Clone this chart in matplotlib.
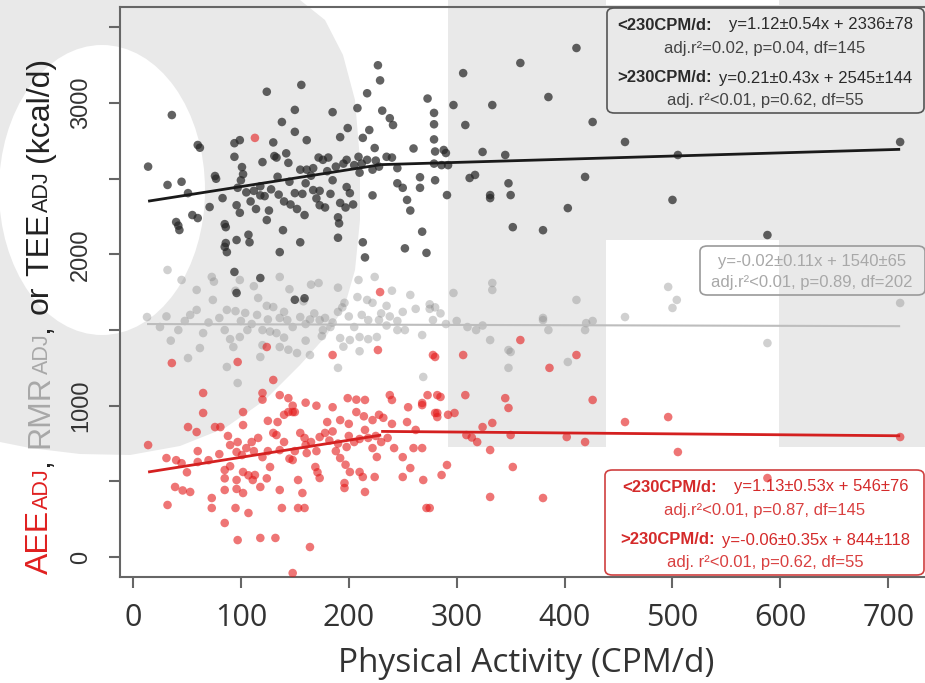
import matplotlib
matplotlib.use("Agg")
import matplotlib.pyplot as plt
from matplotlib import font_manager
from matplotlib.patches import Polygon, Ellipse, Rectangle, FancyBboxPatch
import numpy as np

W, H = 925, 683

# ---- data ----
tee_x = [36, 14, 60, 62, 32, 45, 51, 40, 42, 55, 60, 76, 77, 71, 83, 85, 86, 86, 85, 94,
         94, 99, 101, 102, 100, 97, 96, 99, 96, 107, 108, 120, 124, 130, 131, 133, 134, 124, 118, 122,
         138, 142, 144, 139, 136, 150, 150, 156, 161, 155, 161, 167, 150, 157, 159, 155, 172, 176, 181, 167,
         173, 173, 185, 192, 199, 198, 185, 198, 201, 192, 197, 204, 190, 191, 190, 208, 213, 219, 217, 222,
         209, 224, 222, 213, 227, 229, 217, 231, 238, 241, 235, 240, 245, 245, 250, 254, 257, 260, 266, 266,
         273, 279, 279, 279, 280, 279, 280, 268, 252, 272, 215, 43, 87, 94, 118, 96, 150, 159, 359, 306,
         297, 333, 385, 308, 288, 290, 286, 292, 324, 345, 291, 312, 317, 331, 331, 348, 350, 352, 380, 403,
         419, 426, 456, 505, 500, 588, 711, 411, 105, 112, 118, 128, 135, 140, 145, 160, 165, 180, 188, 195,
         205, 210, 212, 225, 228, 109, 114, 126, 146, 152, 170, 178, 183]
tee_y = [2921, 2580, 2723, 2705, 2459, 2480, 2405, 2214, 2190, 2260, 2240, 2518, 2500, 2313, 2372, 2200, 2180, 2075, 2050, 2645,
         2735, 2755, 2577, 2530, 2490, 2440, 2325, 2275, 2095, 2130, 2080, 2610, 3075, 2740, 2650, 2640, 2513, 2227, 2390, 2385,
         2875, 2668, 2605, 2160, 2015, 2955, 2810, 3120, 2755, 2560, 2560, 2570, 2405, 2400, 2260, 2080, 2640, 2625, 2640, 2425,
         2420, 2325, 2940, 2775, 2835, 2625, 2490, 2445, 2405, 2340, 2310, 2330, 2245, 2205, 2110, 2967, 2770, 2822, 2625, 2560,
         2645, 2703, 2390, 2080, 3250, 3150, 3065, 2950, 2900, 2855, 2645, 2640, 2570, 2470, 2440, 2360, 2290, 2700, 2510, 2440,
         3030, 2935, 2860, 2760, 2680, 2600, 2490, 2150, 2040, 2010, 1980, 2161, 2015, 1884, 1844, 1745, 1700, 1710, 3265, 3198,
         2987, 2987, 3040, 2855, 2690, 2670, 2590, 2590, 2677, 2657, 2392, 2505, 2525, 2392, 2372, 2470, 2392, 2180, 2160, 2306,
         2512, 2875, 2743, 2657, 2360, 2128, 2743, 3364, 2410, 2420, 2450, 2430, 2395, 2350, 2480, 2470, 2520, 2550, 2580, 2600,
         2590, 2540, 2600, 2620, 2580, 2350, 2300, 2290, 2330, 2300, 2370, 2310, 2400]

rmr_x = [32, 45, 59, 73, 74, 13, 31, 53, 59, 87, 95, 104, 42, 62, 51, 85, 90, 93, 99, 106,
         97, 87, 116, 124, 130, 136, 136, 143, 120, 127, 133, 136, 144, 152, 118, 164, 155, 164, 173, 172,
         158, 176, 183, 190, 196, 194, 192, 201, 209, 224, 208, 217, 222, 235, 250, 262, 275, 280, 218, 228,
         235, 245, 252, 268, 210, 218, 226, 257, 269, 190, 99, 75, 95, 112, 145, 165, 190, 240, 297, 333,
         333, 411, 496, 504, 500, 456, 380, 420, 426, 711, 275, 285, 278, 290, 300, 310, 318, 324, 331, 348,
         350, 348, 380, 385, 403, 419, 588, 100, 110, 115, 125, 140, 148, 160, 168, 178, 185, 200, 205, 212,
         230, 238, 245, 140, 160, 175, 195, 210, 120, 70, 80, 65, 35, 48, 25]
rmr_y = [1897, 1831, 1765, 1851, 1699, 1586, 1590, 1600, 1633, 1633, 1625, 1613, 1500, 1381, 1315, 1500, 1440, 1388, 1454, 1500,
         1150, 1256, 1712, 1660, 1652, 1851, 1580, 1566, 1500, 1490, 1480, 1388, 1370, 1348, 1322, 1335, 1586, 1570, 1566, 1811,
         1690, 1500, 1520, 1620, 1680, 1650, 1447, 1434, 1831, 1851, 1718, 1699, 1680, 1660, 1620, 1640, 1670, 1650, 1566, 1566,
         1530, 1500, 1500, 1467, 1454, 1440, 1454, 1732, 1190, 1250, 1831, 1820, 1760, 1790, 1770, 1800, 1780, 1760, 1745, 1811,
         1765, 1699, 1785, 1699, 1646, 1586, 1566, 1546, 1560, 1679, 1640, 1610, 1566, 1540, 1560, 1520, 1500, 1530, 1434, 1368,
         1355, 1250, 1580, 1500, 1289, 1500, 1414, 1560, 1540, 1600, 1570, 1620, 1520, 1540, 1610, 1580, 1550, 1590, 1520, 1600,
         1610, 1590, 1560, 1450, 1430, 1460, 1390, 1360, 1400, 1550, 1580, 1480, 1430, 1560, 1520]

aee_x = [36, 65, 65, 97, 102, 124, 130, 120, 120, 136, 144, 148, 185, 227, 229, 278, 199, 207, 215, 238,
         240, 268, 273, 280, 51, 59, 14, 76, 102, 81, 88, 90, 96, 97, 101, 31, 40, 60, 39, 46,
         53, 32, 73, 73, 85, 85, 85, 102, 107, 111, 96, 96, 102, 113, 124, 118, 95, 107, 85, 97,
         118, 132, 116, 130, 133, 134, 144, 148, 150, 136, 145, 148, 127, 136, 138, 153, 159, 157, 153, 159,
         160, 161, 169, 171, 173, 180, 192, 173, 182, 190, 198, 192, 197, 201, 196, 196, 210, 213, 215, 224,
         218, 222, 226, 236, 242, 250, 257, 250, 269, 254, 260, 268, 272, 164, 148, 207, 214, 222, 228, 232,
         268, 282, 282, 359, 411, 306, 280, 386, 285, 308, 345, 348, 426, 282, 292, 298, 456, 496, 324, 333,
         309, 314, 319, 350, 402, 419, 331, 505, 711, 291, 286, 352, 331, 380, 275, 588, 113, 105, 112, 120,
         125, 140, 150, 155, 165, 170, 178, 185, 188, 200, 205, 210, 215, 225, 230, 110, 90, 80, 70, 60,
         45, 50, 125, 140, 200, 185, 170, 160, 240, 255, 262]
aee_y = [1282, 1084, 952, 1289, 958, 1388, 1170, 1084, 1040, 1070, 958, 958, 1335, 1368, 1751, 1335, 1050, 1040, 1038, 1070,
         1038, 1018, 1070, 952, 859, 826, 740, 859, 872, 859, 800, 740, 694, 760, 674, 654, 640, 628, 463, 440,
         430, 344, 390, 324, 575, 520, 443, 562, 540, 509, 509, 450, 423, 542, 520, 463, 324, 291, 225, 112,
         126, 126, 787, 820, 806, 892, 1050, 1000, 958, 707, 650, 641, 595, 443, 324, 324, 324, 423, 509, 787,
         740, 687, 595, 560, 522, 892, 905, 793, 770, 750, 727, 654, 610, 562, 489, 456, 562, 529, 430, 529,
         787, 720, 661, 787, 720, 660, 588, 529, 509, 892, 720, 720, 324, 66, -106, 958, 930, 905, 940, 920,
         1004, 952, 1070, 1434, 1335, 1335, 1322, 1250, 1058, 1070, 1050, 985, 1038, 925, 940, 952, 892, 925, 859, 886,
         806, 790, 760, 806, 793, 760, 707, 694, 793, 608, 542, 595, 397, 390, 324, 522, 2770, 720, 700, 660,
         700, 760, 700, 820, 760, 700, 820, 830, 700, 800, 760, 780, 840, 800, 760, 760, 600, 680, 640, 700,
         620, 560, 900, 940, 880, 990, 1000, 1020, 880, 990, 840]

# piecewise fits (slope, intercept) below / above the break
break_cpm = 230
tee_fit = [(1.12, 2336), (0.21, 2545)]
rmr_fit = [(-0.02, 1540)]
aee_fit = [(1.13, 546), (-0.06, 844)]

tee_lines = [("<230CPM/d:", "y=1.12±0.54x + 2336±78", "adj.r²=0.02, p=0.04, df=145"),
             (">230CPM/d:", "y=0.21±0.43x + 2545±144", "adj. r²<0.01, p=0.62, df=55")]
rmr_lines = ["y=-0.02±0.11x + 1540±65", "adj.r²<0.01, p=0.89, df=202"]
aee_lines = [("<230CPM/d:", "y=1.13±0.53x + 546±76", "adj.r²<0.01, p=0.87, df=145"),
             (">230CPM/d:", "y=-0.06±0.35x + 844±118", "adj. r²<0.01, p=0.62, df=55")]

x_ticks = [0, 100, 200, 300, 400, 500, 600, 700]
y_ticks = [0, 500, 1000, 1500, 2000, 2500, 3000, 3500]

# ---- fonts ----
installed = {f.name for f in font_manager.fontManager.ttflist}
if "Liberation Sans Narrow" in installed:
    box_font, box_size = "Liberation Sans Narrow", 14
else:
    box_font, box_size = "Liberation Sans", 12

fig = plt.figure(figsize=(9.25, 6.83), dpi=100)


def fx(px):
    return px / W


def fy(py):
    return 1 - py / H


# ---- background watermark shapes ----
grey = "#e9e9e9"
o_outline = [(300, 0), (325, 20), (343, 55), (355, 100), (360, 160), (360, 220), (355, 270),
             (345, 305), (327, 335), (300, 365), (265, 400), (225, 428), (180, 446), (130, 455),
             (80, 454), (30, 448), (0, 442), (0, 0)]
fig.add_artist(Polygon([(fx(a), fy(b)) for a, b in o_outline], closed=True,
                       transform=fig.transFigure, fc=grey, ec="none", zorder=-3))
fig.add_artist(Ellipse((fx(102), fy(190)), 206 / W, 290 / H, transform=fig.transFigure,
                       fc="white", ec="none", zorder=-2))
fig.add_artist(Rectangle((fx(448), fy(447)), (W - 448) / W, 447 / H, transform=fig.transFigure,
                         fc=grey, ec="none", zorder=-3))
fig.add_artist(Rectangle((fx(606), fy(447)), 173 / W, 207 / H, transform=fig.transFigure,
                         fc="white", ec="none", zorder=-2))
fig.add_artist(Rectangle((fx(606), fy(5)), 173 / W, 5 / H, transform=fig.transFigure,
                         fc="white", ec="none", zorder=-2))

# ---- axes ----
ax = fig.add_axes([fx(120), fy(577), (931 - 120) / W, (577 - 7) / H])
ax.set_facecolor("none")
ax.set_xlim(-12.05, 739.6)
ax.set_ylim(-132, 3635)

ax.scatter(rmr_x, rmr_y, s=38, color="#8a8a8a", alpha=0.4, edgecolors="none", zorder=2)
ax.scatter(aee_x, aee_y, s=38, color="#e41a1a", alpha=0.6, edgecolors="none", zorder=3)
ax.scatter(tee_x, tee_y, s=38, color="#262626", alpha=0.72, edgecolors="none", zorder=3)


def draw_fit(xs, fits, color, lw):
    lo, hi = min(xs), max(xs)
    if len(fits) == 1:
        segs = [(lo, hi)]
    else:
        segs = [(lo, break_cpm), (break_cpm, hi)]
    for (a, b), (x0, x1) in zip(fits, segs):
        xx = np.array([x0, x1])
        ax.plot(xx, a * xx + b, color=color, lw=lw, zorder=4, solid_capstyle="butt")


draw_fit(tee_x, tee_fit, "#1a1a1a", 2.0)
draw_fit(rmr_x, rmr_fit, "#bdbdbd", 1.5)
draw_fit(aee_x, aee_fit, "#d42020", 2.0)

for sp in ax.spines.values():
    sp.set_color("#666666")
    sp.set_linewidth(1.5)

ax.set_xticks(x_ticks)
ax.set_xticklabels([str(v) for v in x_ticks], fontsize=22, family="Open Sans", color="#333333")
ax.set_yticks(y_ticks)
ax.set_yticklabels([str(v) if v % 1000 == 0 else "" for v in y_ticks],
                   fontsize=17, family="Liberation Sans", color="#333333", rotation=90, va="center")
ax.tick_params(axis="both", direction="out", length=8, width=1.5, color="#666666")
ax.tick_params(axis="x", pad=11)
ax.tick_params(axis="y", pad=12)

fig.text(fx(526), fy(663), "Physical Activity (CPM/d)", fontsize=24, family="Open Sans",
         color="#333333", ha="center", va="center")

renderer = fig.canvas.get_renderer()

# ---- multicoloured y label, built bottom to top ----
big, small = 23, 15.5
red, mid, blk = "#e02020", "#a8a8a8", "#222222"
space = 0.278 * big * 100 / 72
ylabel_parts = [("AEE", big, red, 0), ("ADJ", small, red, 0), (",", big, blk, space),
                ("RMR", big, mid, 0), ("ADJ", small, mid, 0), (",", big, blk, space),
                ("or", big, blk, space), ("TEE", big, blk, 0), ("ADJ", small, blk, space),
                ("(kcal/d)", big, blk, 0)]
ypos = 574
for s, size, col, gap in ylabel_parts:
    t = fig.text(fx(48), fy(ypos), s, fontsize=size, color=col, family="Liberation Sans",
                 rotation=90, rotation_mode="anchor", ha="left", va="baseline")
    ypos -= t.get_window_extent(renderer).height + gap + 1


# ---- annotation boxes ----
def add_box(x0, y0, x1, y1, ec):
    fig.add_artist(FancyBboxPatch((fx(x0), fy(y1)), (x1 - x0) / W, (y1 - y0) / H,
                                  boxstyle="round,pad=0,rounding_size=0.008",
                                  transform=fig.transFigure, fc="none", ec=ec, lw=1.2, zorder=5))


def mixed_line(cx, cy, bold, rest, gap, color):
    t1 = fig.text(0, fy(cy), bold, fontsize=box_size, family=box_font, weight="bold",
                  color=color, va="center", ha="left", zorder=6)
    t2 = fig.text(0, fy(cy), rest, fontsize=box_size, family=box_font,
                  color=color, va="center", ha="left", zorder=6)
    w1 = t1.get_window_extent(renderer).width
    w2 = t2.get_window_extent(renderer).width
    left = cx - (w1 + gap + w2) / 2
    t1.set_x(fx(left))
    t2.set_x(fx(left + w1 + gap))


def plain_line(cx, cy, s, color):
    fig.text(fx(cx), fy(cy), s, fontsize=box_size, family=box_font, color=color,
             ha="center", va="center", zorder=6)


add_box(607, 8, 924, 113, "#555555")
mixed_line(765, 25, tee_lines[0][0], tee_lines[0][1], 17, "#2a2a2a")
plain_line(765, 48, tee_lines[0][2], "#444444")
mixed_line(765, 78, tee_lines[1][0], tee_lines[1][1], 7, "#2a2a2a")
plain_line(765, 100, tee_lines[1][2], "#444444")

add_box(700, 246, 925, 295, "#9a9a9a")
plain_line(812, 262, rmr_lines[0], "#a8a8a8")
plain_line(812, 283, rmr_lines[1], "#a8a8a8")

add_box(605, 470, 924, 575, "#d04040")
mixed_line(765, 487, aee_lines[0][0], aee_lines[0][1], 17, "#d42a2a")
plain_line(765, 510, aee_lines[0][2], "#d94040")
mixed_line(765, 540, aee_lines[1][0], aee_lines[1][1], 7, "#d42a2a")
plain_line(765, 562, aee_lines[1][2], "#d94040")

fig.savefig("out.png", dpi=100)
